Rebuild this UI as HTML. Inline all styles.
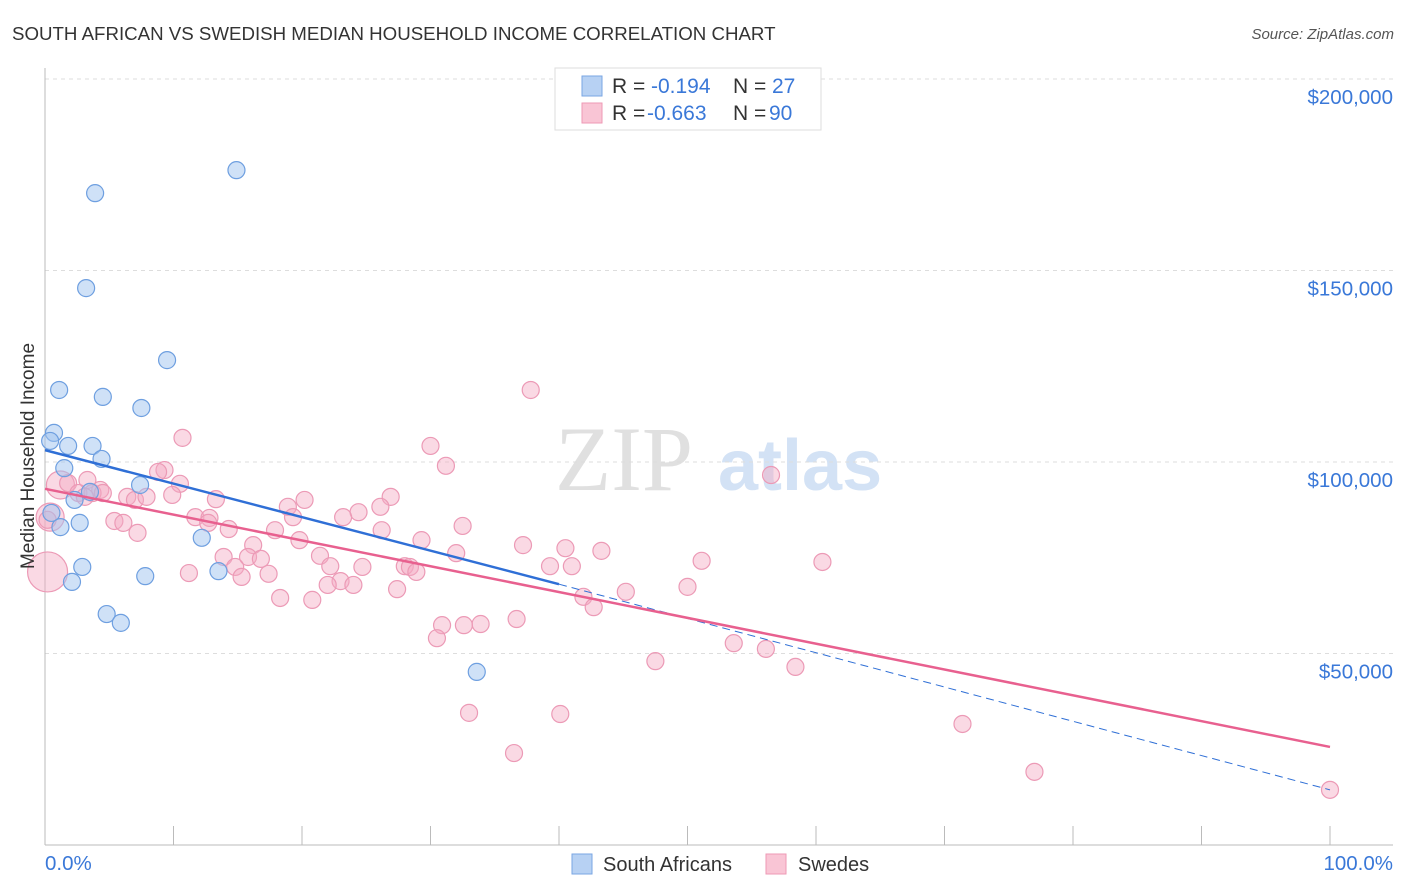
<!DOCTYPE html>
<html><head><meta charset="utf-8">
<style>
body{margin:0;background:#fff;font-family:"Liberation Sans",sans-serif;}
#wrap{position:relative;width:1406px;height:892px;overflow:hidden;}
</style></head>
<body>
<div id="wrap">
<svg id="svg" width="1406" height="892" xmlns="http://www.w3.org/2000/svg">
<text x="12" y="40" font-size="18.7" fill="#333">SOUTH AFRICAN VS SWEDISH MEDIAN HOUSEHOLD INCOME CORRELATION CHART</text>
<text x="1394" y="39" font-size="15" fill="#555" font-style="italic" text-anchor="end">Source: ZipAtlas.com</text>
<text x="555" y="490" font-size="92" fill="#e0e0e0" font-family="Liberation Serif,serif">ZIP</text>
<text x="718" y="490" font-size="72" fill="#d3e2f5" font-weight="bold">atlas</text>
<g id="grid"></g>
<g id="axes"></g>
<g id="marks"></g>
<text transform="translate(34,456) rotate(-90)" font-size="19" fill="#333" text-anchor="middle">Median Household Income</text>
<text x="45" y="870" font-size="20.5" fill="#3a78d8">0.0%</text>
<text x="1393" y="870" font-size="20.5" fill="#3a78d8" text-anchor="end">100.0%</text>
<g>
<rect x="555" y="68" width="266" height="62" fill="#fff" stroke="#ddd"/>
<rect x="582" y="76" width="20" height="20" fill="#b7d1f3" stroke="#7aa6e3"/>
<rect x="582" y="103" width="20" height="20" fill="#f9c5d5" stroke="#ee99b5"/>
<text x="612" y="93" font-size="21" fill="#333">R =</text>
<text x="651" y="93" font-size="21" fill="#3a78d8">-0.194</text>
<text x="733" y="93" font-size="21" fill="#333">N =</text>
<text x="772" y="93" font-size="21" fill="#3a78d8">27</text>
<text x="612" y="120" font-size="21" fill="#333">R =</text>
<text x="647" y="120" font-size="21" fill="#3a78d8">-0.663</text>
<text x="733" y="120" font-size="21" fill="#333">N =</text>
<text x="769" y="120" font-size="21" fill="#3a78d8">90</text>
</g>
<g>
<rect x="572" y="854" width="20" height="20" fill="#b7d1f3" stroke="#7aa6e3"/>
<text x="603" y="871" font-size="20" fill="#333">South Africans</text>
<rect x="766" y="854" width="20" height="20" fill="#f9c5d5" stroke="#ee99b5"/>
<text x="798" y="871" font-size="20" fill="#333">Swedes</text>
</g>
</svg>
</div>
<script>
const yTicks=[50000,100000,150000,200000];
const yTickLabels=["$50,000","$100,000","$150,000","$200,000"];
const xTicks=[0,10,20,30,40,50,60,70,80,90,100];
const blueX=[3.9,14.9,3.2,9.5,1.1,4.5,7.5,0.7,0.4,1.8,3.7,4.4,1.5,7.4,3.5,2.3,0.5,1.2,2.7,12.2,2.9,7.8,13.5,2.1,4.8,5.9,33.6];
const blueY=[170.2,176.2,145.4,126.6,118.8,117.0,114.1,107.6,105.5,104.2,104.2,100.8,98.4,94.0,92.2,90.1,86.7,83.0,84.1,80.2,72.6,70.2,71.5,68.7,60.3,58.0,45.2];
const pinkX=[37.8,10.7,30.0,31.2,9.3,56.5,8.8,1.2,1.8,3.3,4.3,10.5,2.6,3.7,6.4,7.0,7.9,9.9,13.3,20.2,26.9,18.9,26.1,24.4,23.2,19.3,11.7,12.8,5.4,6.1,12.7,32.5,14.3,17.9,26.2,7.2,19.8,29.3,16.2,37.2,40.5,43.3,32.0,21.4,13.9,15.8,16.8,51.1,60.5,14.8,22.2,24.7,28.0,28.4,39.3,41.0,11.2,17.4,28.9,15.3,23.0,24.0,22.0,27.4,50.0,45.2,41.9,18.3,20.8,42.7,36.7,30.9,32.6,33.9,30.5,53.6,56.1,47.5,58.4,33.0,40.1,71.4,36.5,77.0,100,0.2,0.4,4.5,0.2,3.1];
const pinkY=[118.8,106.3,104.2,99.0,97.9,96.6,97.4,94.0,94.5,95.3,92.7,94.3,91.9,91.9,90.9,90.1,90.9,91.4,90.3,90.1,90.9,88.3,88.3,86.9,85.6,85.6,85.6,85.4,84.6,84.1,84.1,83.3,82.5,82.2,82.2,81.5,79.6,79.6,78.3,78.3,77.5,76.8,76.2,75.5,75.2,75.2,74.7,74.2,73.9,72.6,72.8,72.6,72.8,72.6,72.8,72.8,71.0,70.8,71.3,70.0,68.9,67.9,67.9,66.8,67.4,66.1,64.8,64.5,64.0,62.1,59.0,57.4,57.4,57.7,54.0,52.7,51.2,48.0,46.5,34.5,34.2,31.6,24.0,19.1,14.4,71.3,85.6,91.9,84.9,90.9];
const pinkLarge=[7,85,86];
const blueTrend=[[0,103.1],[40,68.1],[100,14.4]];
const pinkTrend=[[0,93.0],[100,25.6]];
const NS="http://www.w3.org/2000/svg";
const X0=45,X1=1330,Y0=845,PXK=191.5/50;
function sx(p){return X0+(X1-X0)*p/100;}
function sy(k){return Y0-k*PXK;}
function mk(tag,attrs,parent){const e=document.createElementNS(NS,tag);for(const k in attrs)e.setAttribute(k,attrs[k]);parent.appendChild(e);return e;}
const grid=document.getElementById('grid'),axes=document.getElementById('axes'),marks=document.getElementById('marks');
yTicks.forEach((v,i)=>{
 const l=mk('line',{x1:45,x2:1393,y1:sy(v/1000),y2:sy(v/1000),stroke:'#ddd','stroke-dasharray':'4,4'},grid);
 
 
 const t=mk('text',{x:1393,y:sy(v/1000)+25,'font-size':20.5,fill:'#3a78d8','text-anchor':'end'},grid);
 t.textContent=yTickLabels[i];
 
 
});
const ax=mk('line',{x1:45,x2:45,y1:68,y2:845,stroke:'#bbb'},axes);


const bx=mk('line',{x1:45,x2:1393,y1:845,y2:845,stroke:'#bbb'},axes);


xTicks.forEach(p=>{
 const t=mk('line',{x1:sx(p),x2:sx(p),y1:826,y2:845,stroke:'#bbb'},axes);
 
 
});
pinkX.forEach((p,i)=>{
 const r=pinkLarge.indexOf(i)>=0?(i===85?20:14):8.5;
 const c=mk('circle',{cx:sx(p),cy:sy(pinkY[i]),r:r,fill:'rgba(245,170,195,0.45)',stroke:'#ec9ab6','stroke-width':1.2},marks);
 
 
});
blueX.forEach((p,i)=>{
 const c=mk('circle',{cx:sx(p),cy:sy(blueY[i]),r:8.5,fill:'rgba(160,195,240,0.5)',stroke:'#6e9fe0','stroke-width':1.2},marks);
 
 
});
const b1=mk('line',{x1:sx(blueTrend[0][0]),y1:sy(blueTrend[0][1]),x2:sx(blueTrend[1][0]),y2:sy(blueTrend[1][1]),stroke:'#2f6fd6','stroke-width':2.5},marks);


const b2=mk('line',{x1:sx(blueTrend[1][0]),y1:sy(blueTrend[1][1]),x2:sx(blueTrend[2][0]),y2:sy(blueTrend[2][1]),stroke:'#2f6fd6','stroke-width':1,'stroke-dasharray':'8,5'},marks);


const p1=mk('line',{x1:sx(pinkTrend[0][0]),y1:sy(pinkTrend[0][1]),x2:sx(pinkTrend[1][0]),y2:sy(pinkTrend[1][1]),stroke:'#e8608f','stroke-width':2.5},marks);


</script>
</body></html>
